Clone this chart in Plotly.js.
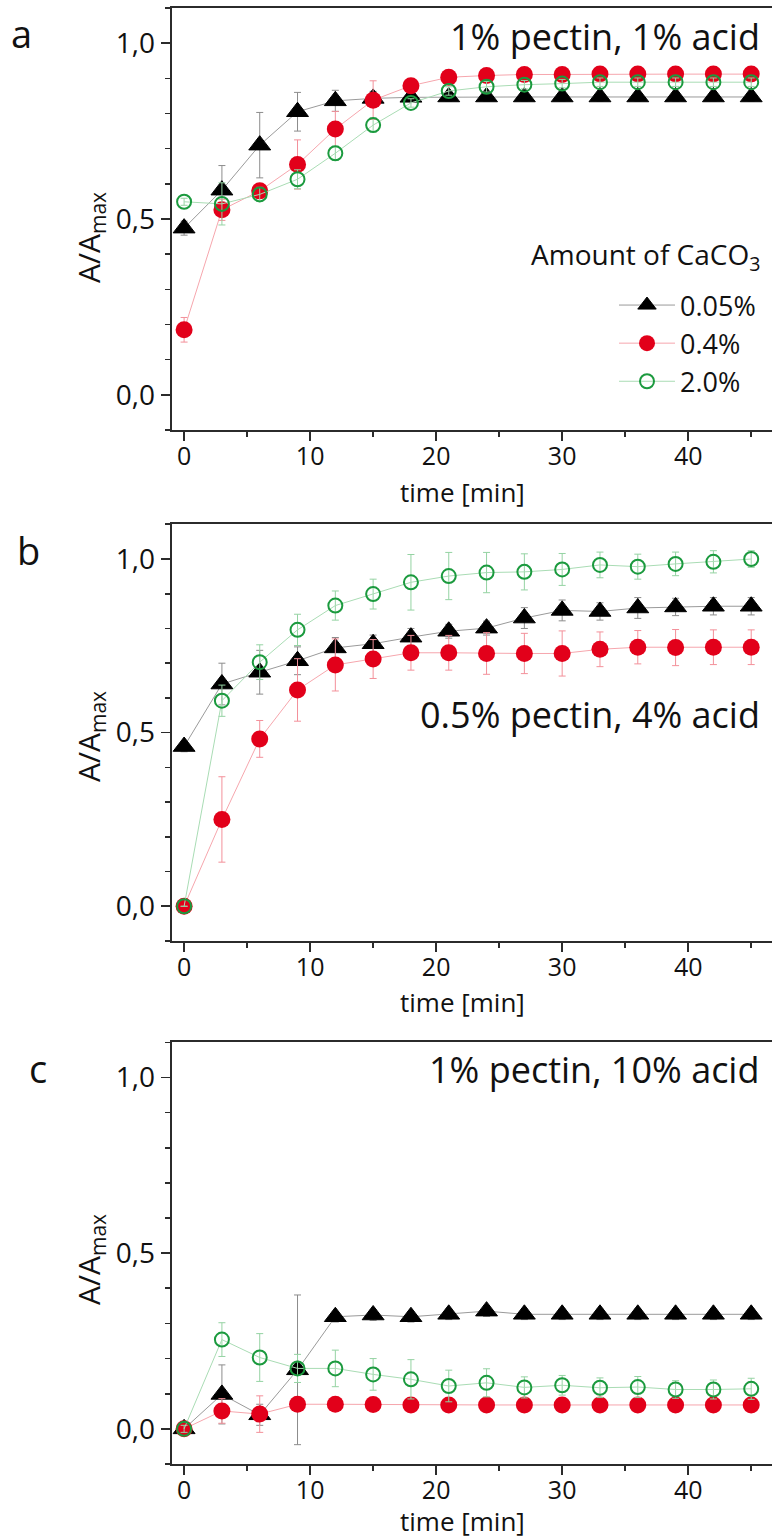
<!DOCTYPE html>
<html>
<head>
<meta charset="utf-8">
<script src="https://cdn.plot.ly/plotly-3.0.1.min.js"></script>
<style>html,body{margin:0;padding:0;background:#fff;}</style>
</head>
<body>
<div id="chart" style="width:772px;height:1540px;"></div>
<script>
// ---- data ----
const time = [0, 3, 6, 9, 12, 15, 18, 21, 24, 27, 30, 33, 36, 39, 42, 45];
const seriesNames = ["0.05%", "0.4%", "2.0%"];
const panelTitles = ["1% pectin, 1% acid", "0.5% pectin, 4% acid", "1% pectin, 10% acid"];
const panelLetters = ["a", "b", "c"];
const legendTitle = "Amount of CaCO<sub>3</sub>";
const yTitle = "A/A<sub>max</sub>";
const xTitle = "time [min]";

// panel a: 1% pectin, 1% acid
const a_low  = [0.474, 0.582, 0.710, 0.805, 0.836, 0.843, 0.846, 0.847, 0.847, 0.847, 0.847, 0.847, 0.847, 0.847, 0.847, 0.847];
const a_low_err  = [0.02, 0.07, 0.093, 0.055, 0.03, 0.02, 0.012, 0.012, 0.012, 0.012, 0.012, 0.012, 0.012, 0.012, 0.012, 0.012];
const a_mid  = [0.185, 0.526, 0.580, 0.655, 0.756, 0.838, 0.879, 0.903, 0.908, 0.911, 0.911, 0.912, 0.912, 0.912, 0.912, 0.912];
const a_mid_err  = [0.035, 0.03, 0.02, 0.07, 0.05, 0.055, 0.02, 0.012, 0.012, 0.012, 0.012, 0.012, 0.012, 0.012, 0.012, 0.012];
const a_high = [0.549, 0.543, 0.570, 0.613, 0.687, 0.767, 0.830, 0.864, 0.876, 0.882, 0.885, 0.889, 0.889, 0.889, 0.889, 0.889];
const a_high_err = [0.01, 0.06, 0.02, 0.027, 0.02, 0.02, 0.012, 0.012, 0.015, 0.012, 0.012, 0.012, 0.012, 0.012, 0.012, 0.012];

// panel b: 0.5% pectin, 4% acid
const b_low  = [0.460, 0.640, 0.674, 0.707, 0.744, 0.756, 0.775, 0.792, 0.801, 0.830, 0.852, 0.849, 0.859, 0.862, 0.864, 0.864];
const b_low_err  = [0.015, 0.06, 0.063, 0.04, 0.03, 0.025, 0.025, 0.02, 0.02, 0.03, 0.03, 0.025, 0.03, 0.025, 0.025, 0.025];
const b_mid  = [0.0, 0.250, 0.482, 0.623, 0.695, 0.712, 0.730, 0.730, 0.728, 0.728, 0.728, 0.740, 0.746, 0.745, 0.746, 0.746];
const b_mid_err  = [0.0, 0.123, 0.053, 0.09, 0.075, 0.056, 0.05, 0.05, 0.06, 0.058, 0.065, 0.05, 0.048, 0.052, 0.05, 0.05];
const b_high = [0.0, 0.592, 0.703, 0.796, 0.866, 0.899, 0.933, 0.951, 0.961, 0.963, 0.970, 0.983, 0.978, 0.986, 0.992, 1.000];
const b_high_err = [0.0, 0.045, 0.05, 0.045, 0.042, 0.043, 0.08, 0.068, 0.058, 0.052, 0.046, 0.037, 0.036, 0.034, 0.032, 0.024];

// panel c: 1% pectin, 10% acid
const c_low  = [0.0, 0.098, 0.040, 0.168, 0.319, 0.324, 0.319, 0.326, 0.335, 0.326, 0.326, 0.326, 0.326, 0.326, 0.326, 0.326];
const c_low_err  = [0.01, 0.084, 0.03, 0.213, 0.015, 0.015, 0.015, 0.015, 0.015, 0.015, 0.015, 0.015, 0.015, 0.015, 0.015, 0.015];
const c_mid  = [0.0, 0.051, 0.042, 0.070, 0.070, 0.069, 0.068, 0.068, 0.068, 0.068, 0.068, 0.068, 0.068, 0.068, 0.068, 0.068];
const c_mid_err  = [0.01, 0.035, 0.052, 0.01, 0.01, 0.01, 0.01, 0.01, 0.01, 0.01, 0.01, 0.01, 0.01, 0.01, 0.01, 0.01];
const c_high = [0.0, 0.254, 0.203, 0.172, 0.172, 0.155, 0.141, 0.122, 0.131, 0.118, 0.124, 0.117, 0.119, 0.112, 0.112, 0.114];
const c_high_err = [0.01, 0.048, 0.068, 0.04, 0.052, 0.045, 0.056, 0.045, 0.04, 0.03, 0.028, 0.028, 0.03, 0.025, 0.027, 0.03];

// ---- styling ----
const W = 772, H = 1540;
const FONT = "Open Sans, Noto Sans, sans-serif";
const styles = [
  {symbol: "triangle-up", size: 19, color: "#000000", lineColor: "#000000", lineW: 1, conn: "#9a9a9a", err: "#8c8c8c"},
  {symbol: "circle", size: 17, color: "#e2001a", lineColor: "#e2001a", lineW: 0, conn: "#f6a6ad", err: "#f3909a"},
  {symbol: "circle-open", size: 14, color: "#1b9a3e", lineColor: "#1b9a3e", lineW: 2, conn: "#a9dcb4", err: "#95d3a3"}
];
const panels = [
  {vals: [a_low, a_mid, a_high], errs: [a_low_err, a_mid_err, a_high_err], top: 8, bottom: 430,
   titleY: 36, letterX: 12, letterY: 33, yTitleY: 238, xTitleY: 492, xTitleAnchor: "middle"},
  {vals: [b_low, b_mid, b_high], errs: [b_low_err, b_mid_err, b_high_err], top: 524.3, bottom: 941,
   titleY: 714, letterX: 18, letterY: 550, yTitleY: 737, xTitleY: 1002, xTitleAnchor: "middle"},
  {vals: [c_low, c_mid, c_high], errs: [c_low_err, c_mid_err, c_high_err], top: 1042.3, bottom: 1464,
   titleY: 1069, letterX: 30, letterY: 1068, yTitleY: 1260, xTitleY: 1540, xTitleAnchor: "bottom"}
];
const plotLeft = 171.5;
const py = p => 1 - p / H;
const px = p => p / W;

const traces = [];
const annotations = [];
const layout = {
  width: W, height: H,
  margin: {l: 0, r: 0, t: 0, b: 0},
  paper_bgcolor: "#ffffff", plot_bgcolor: "#ffffff",
  separators: ",.",
  font: {family: FONT, color: "#111111"},
  showlegend: true,
  legend: {
    x: px(614), xanchor: "left", y: py(281), yanchor: "top",
    font: {family: FONT, size: 27, color: "#111"},
    bgcolor: "rgba(0,0,0,0)", borderwidth: 0, itemwidth: 56
  },
  annotations: annotations
};

panels.forEach((p, i) => {
  const sfx = i === 0 ? "" : String(i + 1);
  const xa = "xaxis" + sfx, ya = "yaxis" + sfx;
  layout[xa] = {
    domain: [px(plotLeft), 1], anchor: "y" + sfx, range: [-1.0, 46.65],
    showgrid: false, zeroline: false, showline: true, mirror: true,
    linecolor: "#2b2b2b", linewidth: 2,
    ticks: "outside", ticklen: 9, tickwidth: 1.6, tickcolor: "#2b2b2b",
    ticklabelstandoff: -6,
    tick0: 0, dtick: 10, tickfont: {family: FONT, size: 25, color: "#111"},
    minor: {ticks: "outside", dtick: 5, tick0: 0, ticklen: 5, tickwidth: 1.6, tickcolor: "#2b2b2b"}
  };
  layout[ya] = {
    domain: [py(p.bottom), py(p.top)], anchor: "x" + sfx, range: [-0.1, 1.1],
    showgrid: false, zeroline: false, showline: true, mirror: false,
    linecolor: "#2b2b2b", linewidth: 2,
    ticks: "outside", ticklen: 9, tickwidth: 1.6, tickcolor: "#2b2b2b",
    tick0: 0, dtick: 0.5, tickformat: ".1f",
    tickfont: {family: FONT, size: 28, color: "#111"},
    minor: {ticks: "outside", dtick: 0.1, tick0: 0, ticklen: 5, tickwidth: 1.6, tickcolor: "#2b2b2b"}
  };
  p.vals.forEach((v, k) => {
    const s = styles[k];
    traces.push({
      type: "scatter", mode: "lines+markers", x: time, y: v,
      xaxis: "x" + sfx, yaxis: "y" + sfx,
      name: seriesNames[k], showlegend: i === 0,
      line: {color: s.conn, width: 1},
      marker: {symbol: s.symbol, size: s.size, color: s.color, line: {color: s.lineColor, width: s.lineW}},
      error_y: {type: "data", array: p.errs[k], visible: true, color: s.err, thickness: 1, width: 3.5},
      cliponaxis: false
    });
  });
  annotations.push({
    text: panelTitles[i], xref: "paper", yref: "paper",
    x: px(762), xanchor: "right", y: py(p.titleY), yanchor: "middle",
    showarrow: false, font: {family: FONT, size: 36, color: "#111"}
  });
  annotations.push({
    text: panelLetters[i], xref: "paper", yref: "paper",
    x: px(p.letterX - 3), xanchor: "left", y: py(p.letterY), yanchor: "middle",
    showarrow: false, font: {family: FONT, size: 38, color: "#111"}
  });
  annotations.push({
    text: yTitle, xref: "paper", yref: "paper", textangle: -90,
    x: px(90), xanchor: "center", y: py(p.yTitleY), yanchor: "middle",
    showarrow: false, font: {family: FONT, size: 30, color: "#111"}
  });
  annotations.push({
    text: xTitle, xref: "paper", yref: "paper",
    x: px(462), xanchor: "center", y: py(p.xTitleY), yanchor: p.xTitleAnchor,
    showarrow: false, borderpad: 0, font: {family: FONT, size: 26, color: "#111"}
  });
});
annotations.push({
  text: legendTitle, xref: "paper", yref: "paper",
  x: px(762), xanchor: "right", y: py(256), yanchor: "middle",
  showarrow: false, font: {family: FONT, size: 28, color: "#111"}
});

Plotly.newPlot("chart", traces, layout, {staticPlot: true, displayModeBar: false});
</script>
</body>
</html>
